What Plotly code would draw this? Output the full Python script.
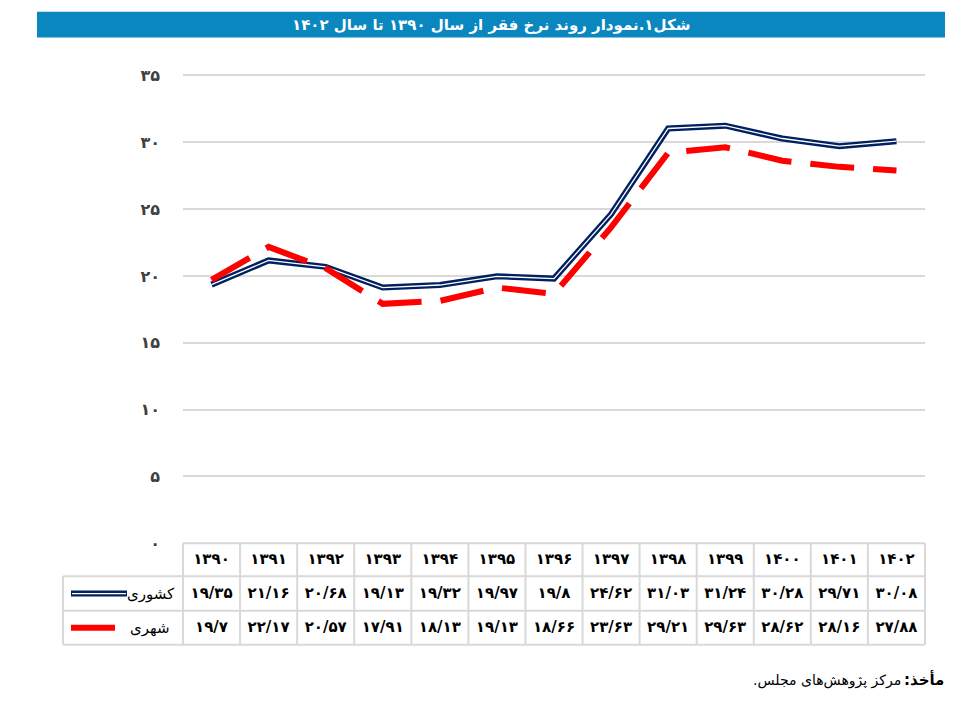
import plotly.graph_objects as go

years = [1390, 1391, 1392, 1393, 1394, 1395, 1396, 1397, 1398, 1399, 1400, 1401, 1402]
national = [19.35, 21.16, 20.68, 19.13, 19.32, 19.97, 19.8, 24.62, 31.03, 31.24, 30.28, 29.71, 30.08]
urban = [19.7, 22.17, 20.57, 17.91, 18.13, 19.13, 18.66, 23.63, 29.21, 29.63, 28.62, 28.16, 27.88]
y_ticks = [0, 5, 10, 15, 20, 25, 30, 35]

name_national = "کشوری"
name_urban = "شهری"
title_text = "شکل۱.نمودار روند نرخ فقر از سال ۱۳۹۰ تا سال ۱۴۰۲"
source_bold = "مأخذ:"
source_text = "مرکز پژوهش‌های مجلس."

RLM = "\u200f"
FA = str.maketrans("0123456789.", "۰۱۲۳۴۵۶۷۸۹/")


def fa(v):
    return str(v).translate(FA)


# reference picture size (layout measured in its pixels)
W, H = 975, 712
NAVY = "#002060"
RED = "#ff0000"
GRID = "#d9d9d9"
FONT = "DejaVu Sans"

px_left, px_right = 183, 925
py_zero, py_35 = 551, 76.5
ppu = (py_zero - py_35) / 35.0
ymax = 36
py_top = py_zero - ymax * ppu
tbl_rows = [551, 584.5, 619.5, 654]
hdr_left = 63


def fx(px):
    return px / W


def fy(py):
    return 1 - py / H


cats = [str(y) for y in years]
n = len(cats)
colw = (px_right - px_left) / n

fig = go.Figure()

# national: navy double line
fig.add_trace(go.Scatter(x=cats, y=national, mode="lines",
                         line=dict(color=NAVY, width=6), hoverinfo="skip",
                         showlegend=False))
fig.add_trace(go.Scatter(x=cats, y=national, mode="lines",
                         line=dict(color="white", width=1.3), hoverinfo="skip",
                         showlegend=False))
# urban: red dashed
fig.add_trace(go.Scatter(x=cats, y=urban, mode="lines",
                         line=dict(color=RED, width=6, dash="44px,19px"),
                         hoverinfo="skip", showlegend=False))

# table texts
row_vals = [[fa(y) for y in years], [fa(v) for v in national], [fa(v) for v in urban]]
for r, texts in enumerate(row_vals):
    fig.add_trace(go.Scatter(x=cats, y=[r + 0.5] * n, yaxis="y2", mode="text",
                             text=texts,
                             textfont=dict(family=FONT, size=15, color="black", weight="bold"),
                             hoverinfo="skip", showlegend=False))

shapes = []
# title bar
shapes.append(dict(type="rect", xref="paper", yref="paper",
                   x0=fx(37), x1=fx(945), y0=fy(38), y1=fy(12),
                   fillcolor="#0a87bf", line=dict(width=0), layer="below"))
# table grid
lw = 2
for i in range(n + 1):
    x = px_left + i * colw
    shapes.append(dict(type="line", xref="paper", yref="paper",
                       x0=fx(x), x1=fx(x), y0=fy(tbl_rows[0]), y1=fy(tbl_rows[-1]),
                       line=dict(color=GRID, width=lw)))
for j, ry in enumerate(tbl_rows):
    x0 = px_left if j == 0 else hdr_left
    shapes.append(dict(type="line", xref="paper", yref="paper",
                       x0=fx(x0), x1=fx(px_right), y0=fy(ry), y1=fy(ry),
                       line=dict(color=GRID, width=lw)))
shapes.append(dict(type="line", xref="paper", yref="paper",
                   x0=fx(hdr_left), x1=fx(hdr_left), y0=fy(tbl_rows[1]), y1=fy(tbl_rows[-1]),
                   line=dict(color=GRID, width=lw)))
# legend swatches in row headers
ly1 = (tbl_rows[1] + tbl_rows[2]) / 2
ly2 = (tbl_rows[2] + tbl_rows[3]) / 2
shapes.append(dict(type="line", xref="paper", yref="paper",
                   x0=fx(71), x1=fx(127), y0=fy(ly1), y1=fy(ly1),
                   line=dict(color=NAVY, width=6)))
shapes.append(dict(type="line", xref="paper", yref="paper",
                   x0=fx(72), x1=fx(126), y0=fy(ly1), y1=fy(ly1),
                   line=dict(color="white", width=1.3)))
shapes.append(dict(type="line", xref="paper", yref="paper",
                   x0=fx(71), x1=fx(115), y0=fy(ly2), y1=fy(ly2),
                   line=dict(color=RED, width=6)))

annotations = [
    dict(text="<b>" + RLM + title_text + RLM + "</b>", xref="paper", yref="paper",
         x=fx(491), y=fy(25), xanchor="center", yanchor="middle", showarrow=False,
         font=dict(family=FONT, size=15, color="white")),
    dict(text=RLM + name_national + RLM, xref="paper", yref="paper",
         x=fx(177), y=fy(ly1), xanchor="right", yanchor="middle", showarrow=False,
         font=dict(family=FONT, size=15, color="black")),
    dict(text=RLM + name_urban + RLM, xref="paper", yref="paper",
         x=fx(172), y=fy(ly2), xanchor="right", yanchor="middle", showarrow=False,
         font=dict(family=FONT, size=15, color="black")),
    dict(text="<b>" + RLM + source_bold + RLM + "</b>", xref="paper", yref="paper",
         x=fx(946), y=fy(689), xanchor="right", yanchor="middle", showarrow=False,
         font=dict(family=FONT, size=15, color="black")),
    dict(text=RLM + source_text + RLM, xref="paper", yref="paper",
         x=fx(903), y=fy(690), xanchor="right", yanchor="middle", showarrow=False,
         font=dict(family=FONT, size=14, color="black")),
]

fig.update_layout(
    autosize=True,
    margin=dict(l=0, r=0, t=0, b=0),
    paper_bgcolor="white", plot_bgcolor="white",
    hovermode=False,
    showlegend=False,
    xaxis=dict(domain=[fx(px_left), fx(px_right)], type="category",
               categoryorder="array", categoryarray=cats,
               range=[-0.5, n - 0.5], showticklabels=False, showgrid=False,
               zeroline=False, showline=False, ticks="", fixedrange=True),
    yaxis=dict(domain=[fy(py_zero), fy(py_top)], range=[0, ymax],
               tickvals=y_ticks, ticktext=[fa(v) for v in y_ticks],
               showgrid=True, gridcolor=GRID, gridwidth=2, zeroline=False,
               showline=False, ticks="", ticklabelstandoff=22,
               tickfont=dict(family=FONT, size=16, color="#404040", weight="bold"),
               fixedrange=True),
    yaxis2=dict(domain=[fy(tbl_rows[-1]), fy(tbl_rows[0])], range=[3, 0],
                showticklabels=False, showgrid=False, zeroline=False,
                showline=False, ticks="", fixedrange=True),
    shapes=shapes,
    annotations=annotations,
)

fig.write_html("out.html",
               default_width="100vw", default_height="100vh",
               config={"displayModeBar": False},
               post_script="document.body.style.margin='0px';document.body.style.overflow='hidden';")
